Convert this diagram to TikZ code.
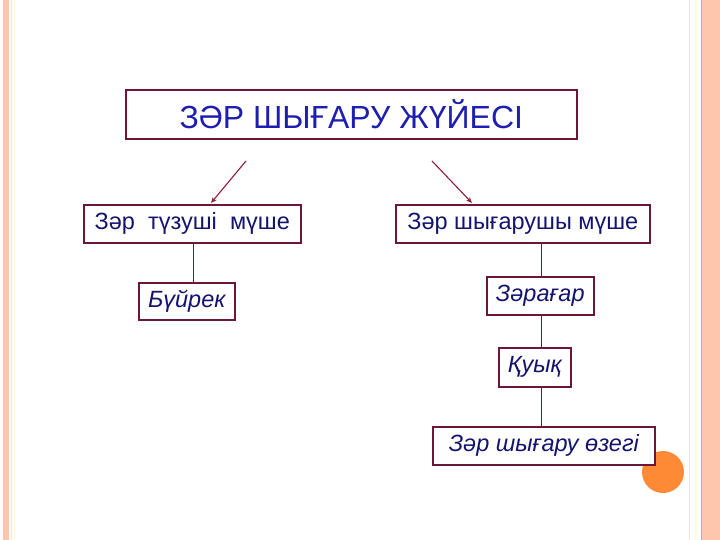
\documentclass[tikz,border=0pt]{standalone}
\usepackage{fontspec}
\setmainfont{Liberation Sans}
\usetikzlibrary{arrows.meta}
\definecolor{boxline}{HTML}{6B1838}
\definecolor{titleblue}{HTML}{1E1EB0}
\definecolor{txtnavy}{HTML}{141470}
\definecolor{arrowred}{HTML}{8E1F3A}
\definecolor{salmon}{HTML}{FFC6AE}
\definecolor{orangeline}{HTML}{F39A72}
\definecolor{dot}{HTML}{FF8A36}
\tikzset{
  boxnode/.style={draw=boxline, line width=1.6bp, fill=white, inner sep=0pt, anchor=north west, text=txtnavy},
  conn/.style={draw=boxline, line width=0.9bp},
  arr/.style={draw=arrowred, line width=1.1bp, -{Stealth[length=6bp,width=5bp]}}
}
\begin{document}
\begin{tikzpicture}[x=1bp,y=-1bp]
\useasboundingbox (0,0) rectangle (720,540);
\fill[white] (0,0) rectangle (720,540);
% left border stripes
\fill[salmon] (3,0) rectangle (9,540);
\draw[color=salmon!50, line width=0.8bp] (11.5,0) -- (11.5,540);
\draw[color=yellow!15!white, line width=0.8bp] (14.5,0) -- (14.5,540);
% right border stripes
\draw[color=salmon!60, line width=0.8bp] (689.5,0) -- (689.5,540);
\draw[color=salmon!40!yellow!20, line width=1.5bp] (696,0) -- (696,540);
\fill[salmon] (702,0) rectangle (720,540);
\draw[color=orangeline, line width=1bp] (701.5,0) -- (701.5,540);
% decorative dot (behind boxes)
\fill[dot] (663,472) circle (21);
% title
\node[boxnode, minimum width=451bp, minimum height=49bp, text=titleblue, font=\fontsize{32bp}{34bp}\selectfont] (title) at (125,89) {ЗӘР ШЫҒАРУ ЖҮЙЕСІ};
% level 2
\node[boxnode, minimum width=217bp, minimum height=38bp, font=\fontsize{23.5bp}{25bp}\selectfont] (org1) at (83,204) {Зәр\ \ түзуші\ \ мүше};
\node[boxnode, minimum width=254bp, minimum height=38bp, font=\fontsize{23.5bp}{25bp}\selectfont] (org2) at (395,204) {Зәр шығарушы мүше};
% left branch
\node[boxnode, minimum width=96bp, minimum height=37bp, font=\fontsize{23.5bp}{25bp}\selectfont\itshape] (kid) at (138,282) {Бүйрек};
% right branch
\node[boxnode, minimum width=107bp, minimum height=38bp, font=\fontsize{23.5bp}{25bp}\selectfont\itshape] (ureter) at (486,276) {Зәрағар};
\node[boxnode, minimum width=72bp, minimum height=39bp, font=\fontsize{23.5bp}{25bp}\selectfont\itshape] (blad) at (498,347) {Қуық};
\node[boxnode, minimum width=222bp, minimum height=38bp, font=\fontsize{23.5bp}{25bp}\selectfont\itshape] (ureth) at (432,426) {Зәр шығару өзегі};
% connectors
\draw[conn] (org1.south) ++(1.5,0) coordinate (o1s) -- (o1s |- kid.north);
\draw[conn] (ureter.north) ++(1.5,0) coordinate (urn) -- (urn |- org2.south);
\draw[conn] (ureter.south) ++(1.5,0) coordinate (urs) -- (urs |- blad.north);
\draw[conn] (urs |- blad.south) -- (urs |- ureth.north);
% arrows
\coordinate (a1) at (246,161);
\coordinate (a2) at (432,161);
\coordinate (h1) at (211,203);
\coordinate (h2) at (472,203);
\draw[arr] (a1) -- (h1);
\draw[arr] (a2) -- (h2);
\end{tikzpicture}
\end{document}
